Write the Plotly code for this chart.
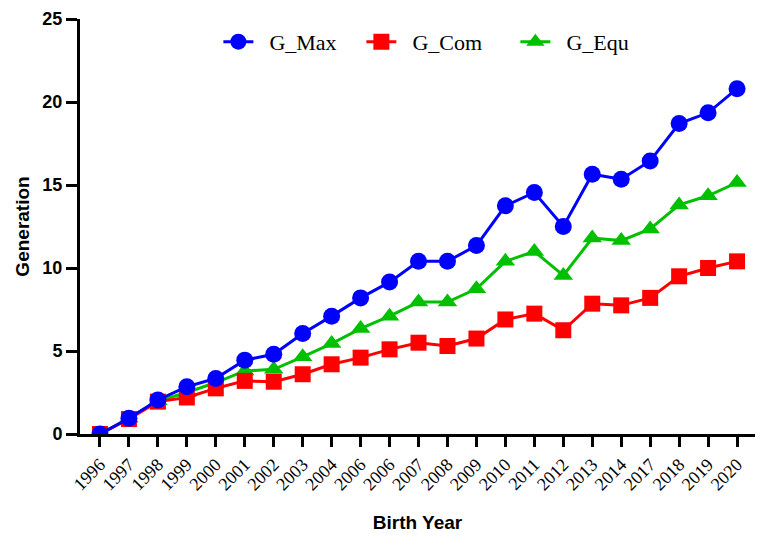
import plotly.graph_objects as go

years = ['1996', '1997', '1998', '1999', '2000', '2001', '2002', '2003', '2004', '2006', '2006',
         '2007', '2008', '2009', '2010', '2011', '2012', '2013', '2014', '2017', '2018', '2019', '2020']

g_max = [0, 0.95, 2.05, 2.85, 3.35, 4.45, 4.8, 6.05, 7.1, 8.2, 9.15, 10.4, 10.4, 11.35,
         13.75, 14.55, 12.5, 15.65, 15.35, 16.45, 18.7, 19.35, 20.8]
g_com = [0, 0.9, 1.95, 2.2, 2.75, 3.2, 3.15, 3.6, 4.2, 4.6, 5.1, 5.5, 5.3, 5.75,
         6.9, 7.25, 6.25, 7.85, 7.75, 8.2, 9.5, 10.0, 10.4]
g_equ = [0, 0.95, 2.0, 2.5, 3.1, 3.8, 3.9, 4.65, 5.45, 6.35, 7.1, 7.95, 7.95, 8.75,
         10.4, 11.0, 9.55, 11.8, 11.65, 12.35, 13.8, 14.35, 15.15]

# years repeat (2006 twice), so plot against index and label ticks
idx = list(range(len(years)))

fig = go.Figure()

# (name, values, colour, symbol, marker size, legend entry width)
series = [
    ('G_Equ', g_equ, '#00C000', 'triangle-up', 17, 100),
    ('G_Com', g_com, '#FF0000', 'square', 16, 109),
    ('G_Max', g_max, '#0000FF', 'circle', 17, 98),
]
for name, vals, color, symbol, size, lw in series:
    fig.add_trace(go.Scatter(
        x=idx, y=vals, name='\u00a0\u00a0' + name, mode='lines+markers',
        line=dict(color=color, width=3),
        marker=dict(color=color, symbol=symbol, size=size),
        legendwidth=lw,
    ))

# page body adds an 8px offset, margins compensate for it
fig.update_layout(
    width=771, height=543,
    margin=dict(l=72, r=24, t=11, b=117),
    plot_bgcolor='white', paper_bgcolor='white',
    legend=dict(
        orientation='h', x=0.205, y=0.945, xanchor='left', yanchor='middle',
        font=dict(family='Liberation Serif', size=22, color='black'),
        traceorder='reversed', bgcolor='rgba(0,0,0,0)',
    ),
)

fig.update_xaxes(
    range=[-0.69, 22.62], tickmode='array', tickvals=idx, ticktext=years,
    tickangle=-45, tickfont=dict(family='Liberation Serif', size=18, color='black'),
    showline=True, linecolor='black', linewidth=3, showgrid=False, zeroline=False,
    ticks='outside', ticklen=10, tickwidth=3, tickcolor='black', automargin=False,
    title=dict(text='<b>Birth Year</b>', font=dict(family='Liberation Sans', size=19, color='black'), standoff=23),
)
fig.update_yaxes(
    range=[0, 25], tickvals=[0, 5, 10, 15, 20, 25],
    tickfont=dict(family='Liberation Sans', size=18, color='black', weight='bold'),
    showline=True, linecolor='black', linewidth=3, showgrid=False, zeroline=False,
    ticks='outside', ticklen=11, tickwidth=3, tickcolor='black', automargin=False,
    title=dict(text='<b>Generation</b>', font=dict(family='Liberation Sans', size=19, color='black'), standoff=8),
)

fig.write_html("out.html")
